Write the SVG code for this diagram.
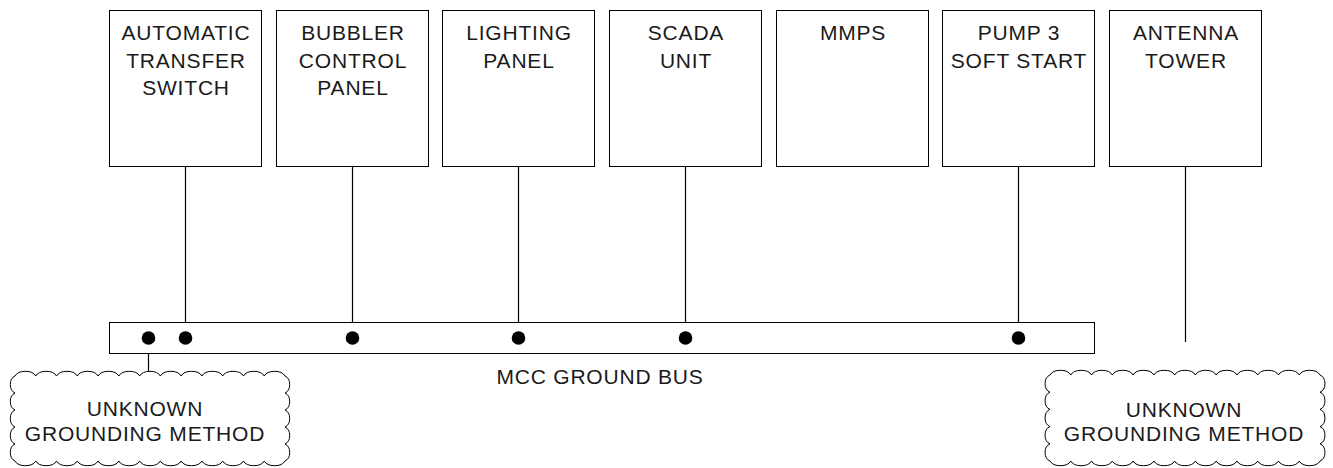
<svg xmlns="http://www.w3.org/2000/svg" width="1333" height="468" viewBox="0 0 1333 468">
<style>
.box{fill:#fff;stroke:#000;stroke-width:1}
.ln{stroke:#000;stroke-width:1.2;fill:none}
.dot{fill:#000}
.cloud{fill:#fff;stroke:#000;stroke-width:1}
text{font-family:"Liberation Sans",Arial,sans-serif;font-size:21px;fill:#1a1a1a;text-anchor:middle;letter-spacing:0.8px}
</style>
<rect width="1333" height="468" fill="#fff"/>
<g id="connectors">
<line class="ln" x1="185.5" y1="166.5" x2="185.5" y2="338"/>
<line class="ln" x1="352.5" y1="166.5" x2="352.5" y2="338"/>
<line class="ln" x1="518.5" y1="166.5" x2="518.5" y2="338"/>
<line class="ln" x1="685.5" y1="166.5" x2="685.5" y2="338"/>
<line class="ln" x1="1018.5" y1="166.5" x2="1018.5" y2="338"/>
<line class="ln" x1="1185.5" y1="166.5" x2="1185.5" y2="342"/>
<line class="ln" x1="148.5" y1="338" x2="148.5" y2="376"/>
</g>
<g id="bus">
<rect class="box" x="109.5" y="322.5" width="985" height="31"/>
<text x="600" y="384">MCC GROUND BUS</text>
</g>
<g id="dots">
<circle class="dot" cx="148.5" cy="338" r="6.8"/>
<circle class="dot" cx="185.5" cy="338" r="6.8"/>
<circle class="dot" cx="352.5" cy="338" r="6.8"/>
<circle class="dot" cx="518.5" cy="338" r="6.8"/>
<circle class="dot" cx="685.5" cy="338" r="6.8"/>
<circle class="dot" cx="1018.5" cy="338" r="6.8"/>
</g>
<g id="ats">
<rect class="box" x="109.5" y="10.5" width="152" height="156"/>
<text x="186" y="40">AUTOMATIC</text>
<text x="186" y="67.5">TRANSFER</text>
<text x="186" y="95">SWITCH</text>
</g>
<g id="bubbler">
<rect class="box" x="276.5" y="10.5" width="152" height="156"/>
<text x="353" y="40">BUBBLER</text>
<text x="353" y="67.5">CONTROL</text>
<text x="353" y="95">PANEL</text>
</g>
<g id="lighting">
<rect class="box" x="442.5" y="10.5" width="152" height="156"/>
<text x="519" y="40">LIGHTING</text>
<text x="519" y="67.5">PANEL</text>
</g>
<g id="scada">
<rect class="box" x="609.5" y="10.5" width="152" height="156"/>
<text x="686" y="40">SCADA</text>
<text x="686" y="67.5">UNIT</text>
</g>
<g id="mmps">
<rect class="box" x="776.5" y="10.5" width="152" height="156"/>
<text x="853" y="40">MMPS</text>
</g>
<g id="pump3">
<rect class="box" x="942.5" y="10.5" width="152" height="156"/>
<text x="1019" y="40">PUMP 3</text>
<text x="1019" y="67.5">SOFT START</text>
</g>
<g id="antenna">
<rect class="box" x="1109.5" y="10.5" width="152" height="156"/>
<text x="1186" y="40">ANTENNA</text>
<text x="1186" y="67.5">TOWER</text>
</g>
<g id="cloud-left">
<path class="cloud" d="M15,376 a11 7 0 0 1 20.77 0 a11 7 0 0 1 20.77 0 a11 7 0 0 1 20.77 0 a11 7 0 0 1 20.77 0 a11 7 0 0 1 20.77 0 a11 7 0 0 1 20.77 0 a11 7 0 0 1 20.77 0 a11 7 0 0 1 20.77 0 a11 7 0 0 1 20.77 0 a11 7 0 0 1 20.77 0 a11 7 0 0 1 20.77 0 a11 7 0 0 1 20.77 0 a11 7 0 0 1 20.77 0 a7 9 0 0 1 0 17 a7 9 0 0 1 0 17 a7 9 0 0 1 0 17 a7 9 0 0 1 0 17 a7 9 0 0 1 0 17 a11 7 0 0 1 -20.77 0 a11 7 0 0 1 -20.77 0 a11 7 0 0 1 -20.77 0 a11 7 0 0 1 -20.77 0 a11 7 0 0 1 -20.77 0 a11 7 0 0 1 -20.77 0 a11 7 0 0 1 -20.77 0 a11 7 0 0 1 -20.77 0 a11 7 0 0 1 -20.77 0 a11 7 0 0 1 -20.77 0 a11 7 0 0 1 -20.77 0 a11 7 0 0 1 -20.77 0 a11 7 0 0 1 -20.77 0 a7 9 0 0 1 0 -17 a7 9 0 0 1 0 -17 a7 9 0 0 1 0 -17 a7 9 0 0 1 0 -17 a7 9 0 0 1 0 -17 Z"/>
<text x="145" y="416">UNKNOWN</text>
<text x="145" y="441">GROUNDING METHOD</text>
</g>
<g id="cloud-right">
<path class="cloud" d="M1050,375 a11 7 0 0 1 20.77 0 a11 7 0 0 1 20.77 0 a11 7 0 0 1 20.77 0 a11 7 0 0 1 20.77 0 a11 7 0 0 1 20.77 0 a11 7 0 0 1 20.77 0 a11 7 0 0 1 20.77 0 a11 7 0 0 1 20.77 0 a11 7 0 0 1 20.77 0 a11 7 0 0 1 20.77 0 a11 7 0 0 1 20.77 0 a11 7 0 0 1 20.77 0 a11 7 0 0 1 20.77 0 a7 9 0 0 1 0 17.2 a7 9 0 0 1 0 17.2 a7 9 0 0 1 0 17.2 a7 9 0 0 1 0 17.2 a7 9 0 0 1 0 17.2 a11 7 0 0 1 -20.77 0 a11 7 0 0 1 -20.77 0 a11 7 0 0 1 -20.77 0 a11 7 0 0 1 -20.77 0 a11 7 0 0 1 -20.77 0 a11 7 0 0 1 -20.77 0 a11 7 0 0 1 -20.77 0 a11 7 0 0 1 -20.77 0 a11 7 0 0 1 -20.77 0 a11 7 0 0 1 -20.77 0 a11 7 0 0 1 -20.77 0 a11 7 0 0 1 -20.77 0 a11 7 0 0 1 -20.77 0 a7 9 0 0 1 0 -17.2 a7 9 0 0 1 0 -17.2 a7 9 0 0 1 0 -17.2 a7 9 0 0 1 0 -17.2 a7 9 0 0 1 0 -17.2 Z"/>
<text x="1184" y="417">UNKNOWN</text>
<text x="1184" y="441">GROUNDING METHOD</text>
</g>
</svg>
